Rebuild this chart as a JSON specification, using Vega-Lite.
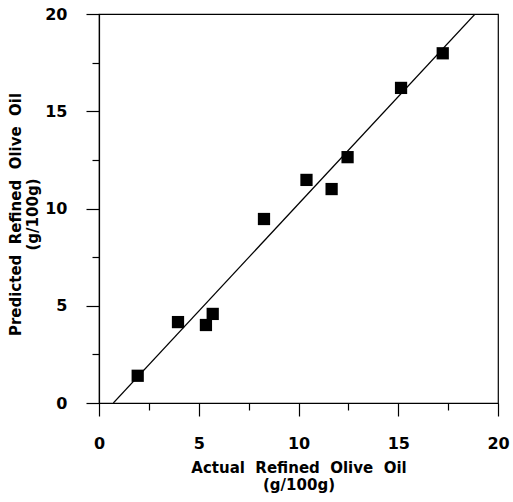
{
  "$schema": "https://vega.github.io/schema/vega-lite/v6.json",
  "width": 399,
  "height": 389,
  "autosize": {"type": "none"},
  "padding": {"left": 99, "top": 14, "right": 15, "bottom": 99},
  "background": "white",
  "config": {
    "view": {"stroke": "black", "strokeWidth": 1.2},
    "axis": {
      "grid": false,
      "labelFlush": false,
      "domainColor": "black",
      "domainWidth": 1.2,
      "tickColor": "black",
      "tickWidth": 1.2,
      "labelFont": "DejaVu Sans",
      "labelFontWeight": "bold",
      "labelFontSize": 16,
      "labelColor": "black",
      "titleFont": "DejaVu Sans",
      "titleFontWeight": "bold",
      "titleFontSize": 15,
      "titleColor": "black",
      "titleLineHeight": 17
    }
  },
  "layer": [
    {
      "data": {
        "values": [
          {"actual": 1.94, "predicted": 1.40},
          {"actual": 3.96, "predicted": 4.16},
          {"actual": 5.36, "predicted": 4.01},
          {"actual": 5.70, "predicted": 4.58},
          {"actual": 8.27, "predicted": 9.46},
          {"actual": 10.40, "predicted": 11.47},
          {"actual": 11.66, "predicted": 11.00},
          {"actual": 12.46, "predicted": 12.64},
          {"actual": 15.14, "predicted": 16.20},
          {"actual": 17.23, "predicted": 17.98}
        ]
      },
      "mark": {"type": "point", "shape": "square", "filled": true, "color": "black", "size": 150, "opacity": 1},
      "encoding": {
        "x": {
          "field": "actual", "type": "quantitative",
          "scale": {"domain": [0, 20], "nice": false, "zero": false},
          "axis": {
            "title": ["Actual\u00a0\u00a0Refined\u00a0\u00a0Olive\u00a0\u00a0Oil", "(g/100g)"],
            "values": [0, 2.5, 5, 7.5, 10, 12.5, 15, 17.5, 20],
            "labelExpr": "datum.value % 5 === 0 ? datum.label : ''",
            "tickSize": {"condition": {"test": "datum.value % 5 === 0", "value": 13}, "value": 7},
            "labelPadding": 19,
            "titlePadding": 9
          }
        },
        "y": {
          "field": "predicted", "type": "quantitative",
          "scale": {"domain": [0, 20], "nice": false, "zero": false},
          "axis": {
            "title": ["Predicted\u00a0\u00a0Refined\u00a0\u00a0Olive\u00a0\u00a0Oil", "(g/100g)"],
            "values": [0, 2.5, 5, 7.5, 10, 12.5, 15, 17.5, 20],
            "labelExpr": "datum.value % 5 === 0 ? datum.label : ''",
            "tickSize": {"condition": {"test": "datum.value % 5 === 0", "value": 13}, "value": 7},
            "labelPadding": 19,
            "titlePadding": 4,
            "titleY": 200
          }
        }
      }
    },
    {
      "data": {
        "values": [
          {"actual": 0.72, "predicted": 0},
          {"actual": 18.85, "predicted": 20}
        ]
      },
      "mark": {"type": "line", "color": "black", "strokeWidth": 1.2, "clip": true},
      "encoding": {
        "x": {"field": "actual", "type": "quantitative"},
        "y": {"field": "predicted", "type": "quantitative"}
      }
    }
  ]
}
